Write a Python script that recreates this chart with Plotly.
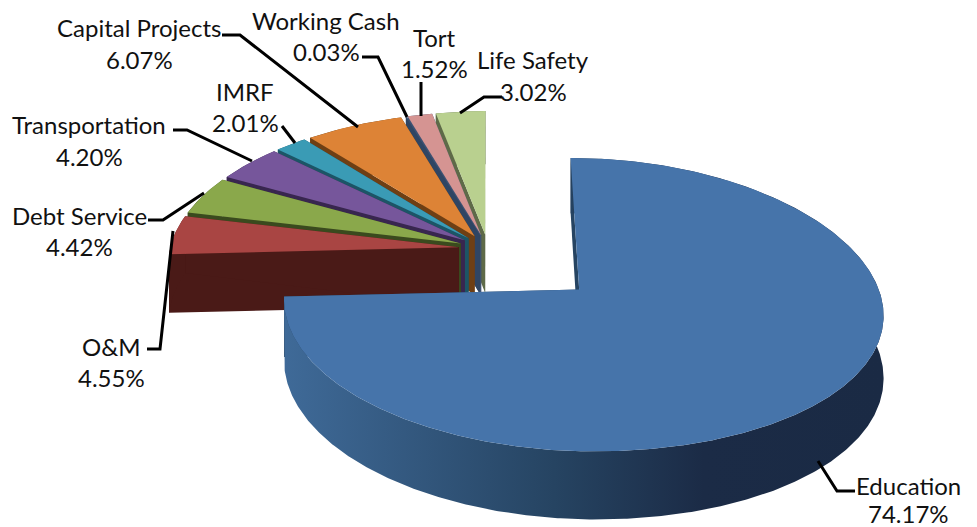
import math
import plotly.graph_objects as go

# ---- data ----
categories = ["Education", "O&M", "Debt Service", "Transportation", "IMRF",
              "Capital Projects", "Working Cash", "Tort", "Life Safety"]
shares = [74.17, 4.55, 4.42, 4.20, 2.01, 6.07, 0.03, 1.52, 3.02]
pulls = [0.415, 0.10, 0.10, 0.10, 0.10, 0.10, 0.10, 0.10, 0.10]
radii = [0.98, 1, 1, 1, 1, 1, 1, 1, 1]

# ---- styles ----
top_colors = ["#4674aa", "#a94543", "#8aa84b", "#76569b", "#3a9bb5",
              "#dd8336", "#3f5a80", "#d59492", "#b9d08f"]
wall_colors = ["#264462", "#4a1a17", "#3a4a1e", "#38264f", "#1c5566",
               "#6e3f14", "#2f4563", "#3f5272", "#5e6a48"]

X0, Y0, B, A, K, M, DEPTH = 488, 248.5, 293, 139, 0.102, 0.012, 59
SKEW = 6


def project(u, v, cu):
    w = 1 - K * v - M * u
    x = X0 + B * u / w
    y = Y0 + A * v / w + SKEW * max(u - cu, 0) ** 2
    return x, y, w


def rim(cu, cv, rad, a0, a1, n):
    pts = []
    for i in range(n + 1):
        t = math.radians(a0 + (a1 - a0) * i / n)
        pts.append((cu + rad * math.sin(t), cv - rad * math.cos(t)))
    return pts


def poly(fig, pts, color, **kw):
    fig.add_trace(go.Scatter(x=[p[0] for p in pts], y=[p[1] for p in pts], mode="lines",
                             fill="toself", fillcolor=color, line=dict(width=0),
                             hoverinfo="skip", showlegend=False, **kw))


fig = go.Figure()

total = sum(shares)
starts, acc = [], 0.0
for s in shares:
    starts.append(acc)
    acc += s / total * 360

for i in range(len(shares) - 1, -1, -1):
    a0 = starts[i]
    a1 = a0 + shares[i] / total * 360
    mid = math.radians((a0 + a1) / 2)
    cu, cv = pulls[i] * math.sin(mid), -pulls[i] * math.cos(mid)
    n = max(2, int(a1 - a0) * 2)
    r = [project(u, v, cu) for u, v in rim(cu, cv, radii[i], a0, a1, n)]
    c = project(cu, cv, cu)
    down = lambda p: (p[0], p[1] + DEPTH / p[2])
    for e in (r[0], r[-1]):
        poly(fig, [c[:2], e[:2], down(e), down(c)], wall_colors[i])
    band = [p[:2] for p in r] + [down(p) for p in reversed(r)]
    if i == 0:
        poly(fig, band, wall_colors[i],
             fillgradient=dict(type="horizontal",
                               colorscale=[[0, "#3f6a98"], [0.45, "#264462"], [0.7, "#1b2b46"], [1, "#1a2a44"]]))
    else:
        poly(fig, band, wall_colors[i])
    poly(fig, [c[:2]] + [p[:2] for p in r], top_colors[i])

# ---- leaders ----
leaders = [
    [(222, 35), (240, 35), (358, 127)],
    [(362, 57), (378, 57), (407, 117)],
    [(421, 82), (421, 116)],
    [(502, 97), (484, 97), (460, 113)],
    [(282, 126), (295, 143)],
    [(173, 130), (187, 130), (252, 161)],
    [(148, 220), (163, 220), (204, 193)],
    [(147, 349), (160, 349), (173, 231)],
    [(818, 461), (837, 491), (855, 491)],
]
for pts in leaders:
    fig.add_trace(go.Scatter(x=[p[0] for p in pts], y=[p[1] for p in pts], mode="lines",
                             line=dict(color="black", width=3), hoverinfo="skip", showlegend=False))

label_pos = {
    "Education": (908, 485, 513),
    "O&M": (111, 346, 377),
    "Debt Service": (79, 215, 246),
    "Transportation": (89, 124, 156),
    "IMRF": (245, 91, 122),
    "Capital Projects": (139, 27, 59),
    "Working Cash": (326, 20, 51),
    "Tort": (434, 37, 68),
    "Life Safety": (533, 59, 91),
}
annos = []
for name, val in zip(categories, shares):
    x, y1, y2 = label_pos[name]
    for txt, y in ((name, y1), (f"{val:.2f}%", y2)):
        annos.append(dict(x=x, y=y, text=txt, showarrow=False, xanchor="center", yanchor="middle",
                          font=dict(family="Lato", size=24, color="#111111")))

fig.update_layout(
    width=977, height=527, margin=dict(l=0, r=0, t=0, b=0),
    paper_bgcolor="white", plot_bgcolor="white", showlegend=False, annotations=annos,
    xaxis=dict(range=[0, 977], visible=False, fixedrange=True),
    yaxis=dict(range=[527, 0], visible=False, fixedrange=True),
)
fig.write_html("out.html", config=dict(displayModeBar=False),
               post_script="document.body.style.margin='0';document.body.style.overflow='hidden';")
